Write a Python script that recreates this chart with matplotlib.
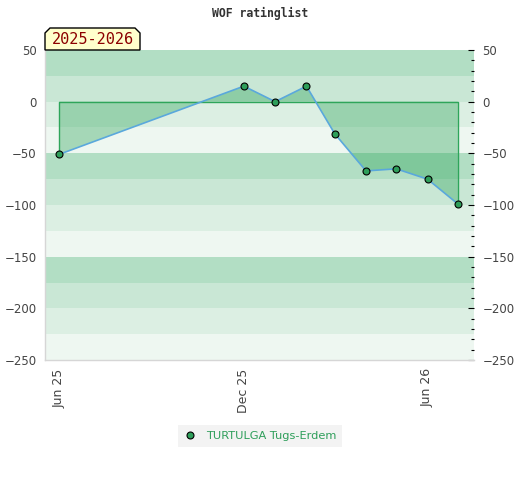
import matplotlib
matplotlib.use("Agg")
import matplotlib.pyplot as plt
import matplotlib.dates as mdates
from matplotlib.patches import Polygon
from matplotlib.ticker import MultipleLocator
from datetime import datetime

# rating list months and rating change
dates = ["2025-06-01", "2025-12-01", "2026-01-01", "2026-02-01", "2026-03-01",
         "2026-04-01", "2026-05-01", "2026-06-01", "2026-07-01"]
ratings = [-51, 15, 0, 15, -31, -67, -65, -75, -99]
player = "TURTULGA Tugs-Erdem"
season = "2025-2026"

x = [datetime.strptime(d, "%Y-%m-%d") for d in dates]

W, H = 520, 480
fig = plt.figure(figsize=(W / 100, H / 100), dpi=100)
ax = fig.add_axes([45 / W, 1 - 360 / H, (474 - 45) / W, 310 / H])

# background bands, 4 shades repeating every 100
band_colors = ["#b2dec4", "#c9e7d5", "#dcefe3", "#eef7f1"]
for i, top in enumerate(range(50, -250, -25)):
    ax.axhspan(top - 25, top, color=band_colors[i % 4], lw=0, zorder=0)
for yv in range(50, -251, 50):
    ax.axhline(yv, color="#d6d6d6", lw=0.8, zorder=0.5)

ax.fill_between(x, ratings, 0, facecolor="#2ea55a", alpha=0.38, edgecolor="none", zorder=1)
ax.plot([x[0], x[0], x[-1], x[-1]], [ratings[0], 0, 0, ratings[-1]],
        color="#2ea55a", lw=1, zorder=2)
ax.plot(x, ratings, color="#5aa8dc", lw=1.2, zorder=3)
ax.plot(x, ratings, "o", color="#2e9e5a", mec="black", mew=0.8, ms=5, zorder=4,
        label=player)

ax.set_xlim(datetime(2025, 5, 18), datetime(2026, 7, 17))
ax.set_ylim(-250, 50)
ax.xaxis.set_major_locator(mdates.MonthLocator(bymonth=[6, 12]))
ax.xaxis.set_major_formatter(mdates.DateFormatter("%b %y"))
ax.yaxis.set_major_locator(MultipleLocator(50))
ax.yaxis.set_minor_locator(MultipleLocator(10))

for s in ["top", "right"]:
    ax.spines[s].set_visible(False)
for s in ["left", "bottom"]:
    ax.spines[s].set_color("#d6d6d6")
    ax.spines[s].set_linewidth(1)

ax.tick_params(axis="y", which="both", left=False, right=True, labelleft=True,
               labelright=True, direction="in", labelsize=8.5, labelcolor="#444444")
ax.tick_params(axis="y", which="major", length=4.5, width=0.8, pad=6)
ax.tick_params(axis="y", which="minor", length=2.2, width=0.8)
ax.tick_params(axis="x", length=0, labelsize=9, labelcolor="#444444", pad=6)
for lbl in ax.get_xticklabels():
    lbl.set_rotation(90)

fig.text(0.5, 1 - 13 / H, "WOF ratinglist", ha="center", va="center",
         family="DejaVu Sans Mono", weight="bold", fontsize=8.3, color="#333333")

# season tag with chamfered top corners
bx0, bx1, by0, by1, c = 45, 140, 28, 50, 5
pts = [(bx0, by1), (bx0, by0 + c), (bx0 + c, by0), (bx1 - c, by0), (bx1, by0 + c), (bx1, by1)]
fig.patches.append(Polygon([(px / W, 1 - py / H) for px, py in pts], closed=True,
                           transform=fig.transFigure, facecolor="#ffffcc",
                           edgecolor="black", lw=1, zorder=10))
fig.text((bx0 + bx1) / 2 / W, 1 - 40 / H, season, ha="center", va="center",
         family="DejaVu Sans Mono", fontsize=11, color="#8b0000", zorder=11)

leg = fig.legend(loc="center", bbox_to_anchor=(0.5, 1 - 436 / H), frameon=True,
                 fontsize=8.2, handletextpad=0.8, handlelength=1.2, borderpad=0.5,
                 fancybox=False)
leg.get_frame().set_facecolor("#f0f0f0")
leg.get_frame().set_edgecolor("none")
for t in leg.get_texts():
    t.set_color("#2e9e5a")

fig.savefig("out.png", dpi=100)
